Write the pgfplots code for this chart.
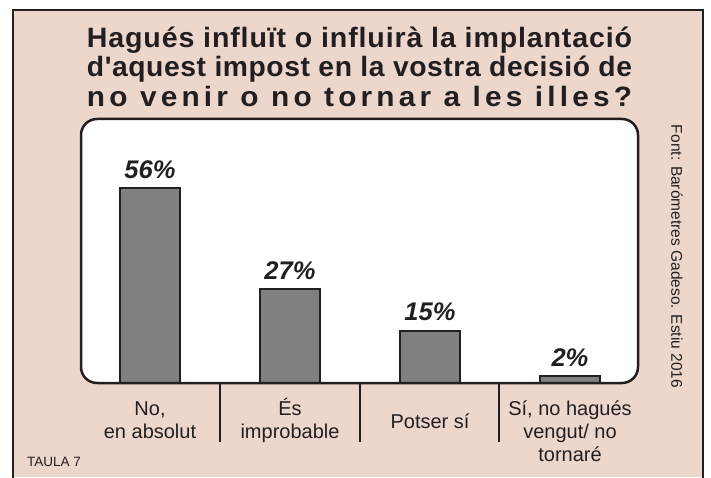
\documentclass[border=0pt]{standalone}
\usepackage{pgfplots}
\pgfplotsset{compat=1.18}
\usepackage{fontspec}
\setmainfont{Liberation Sans}[Ligatures=TeXOff]
\usepackage{graphicx}
\definecolor{bgpink}{RGB}{237,214,203}
\definecolor{bargray}{RGB}{128,128,128}
\definecolor{ink}{RGB}{35,31,32}
\begin{document}
\begin{tikzpicture}
\begin{scope}[x=1pt,y=1pt]
\path[use as bounding box] (0,0) rectangle (711,477);
\fill[white] (0,0) rectangle (711,477);
\fill[bgpink] (13,0) rectangle (703,467);
\draw[ink, line width=2pt] (13,-3) -- (13,467) -- (703,467) -- (703,-3);
\fill[white, rounded corners=16pt] (81,94) rectangle (638,358);
% title
\node[anchor=base, inner sep=0pt, text=ink] at (359.5,429) {\resizebox{545pt}{\height}{\fontsize{28}{30}\selectfont\bfseries\addfontfeatures{LetterSpace=3}Hagués influït o influirà la implantació}};
\node[anchor=base, inner sep=0pt, text=ink] at (359.5,400) {\resizebox{545pt}{\height}{\fontsize{28}{30}\selectfont\bfseries\addfontfeatures{LetterSpace=2}d'aquest impost en la vostra decisió de}};
\node[anchor=base, inner sep=0pt, text=ink] at (359.5,370) {\resizebox{545pt}{\height}{\fontsize{28}{30}\selectfont\bfseries\addfontfeatures{LetterSpace=14}no venir o no tornar a les illes?}};
\end{scope}
\begin{axis}[
  at={(81pt,94pt)}, anchor=south west,
  scale only axis, width=557pt, height=264pt,
  xmin=-0.493, xmax=3.486, ymin=0, ymax=75.9,
  axis line style={draw=none}, ticks=none,
  clip=false,
  ybar, bar width=60pt,
  /pgf/number format/assume math mode=true,
  nodes near coords={\pgfmathprintnumber{\pgfplotspointmeta}\%},
  nodes near coords style={anchor=base, yshift=10pt, text=ink, inner sep=0pt,
    font=\fontsize{25.5}{28}\selectfont\bfseries\itshape},
]
\addplot[fill=bargray, draw=ink, line width=1.5pt] coordinates {(0,56) (1,27) (2,15) (3,2)};
\end{axis}
\begin{scope}[x=1pt,y=1pt]
\draw[ink, line width=2.5pt, rounded corners=16pt] (81,94) rectangle (638,358);
% separators
\foreach \x in {220,360,499} { \draw[ink, line width=1.5pt] (\x,94) -- (\x,35); }
% category labels
\begin{scope}[every node/.style={anchor=base, align=center, inner sep=0pt, text=ink, font=\fontsize{20}{23}\selectfont}]
\node at (150,39) {No,\\en absolut};
\node at (290,39) {És\\improbable};
\node at (430,49) {Potser sí};
\node at (570,16) {Sí, no hagués\\vengut/ no\\tornaré};
\end{scope}
% source
\node[rotate=-90, anchor=center, inner sep=0pt, text=ink] at (677,220.5) {\makebox[263pt][s]{\fontsize{15.5}{17}\selectfont Font: Barómetres Gadeso. Estiu 2016}};
\node[anchor=base west, inner sep=0pt, text=ink, font=\fontsize{13.5}{15}\selectfont] at (27,11) {TAULA 7};
\end{scope}
\end{tikzpicture}
\end{document}
